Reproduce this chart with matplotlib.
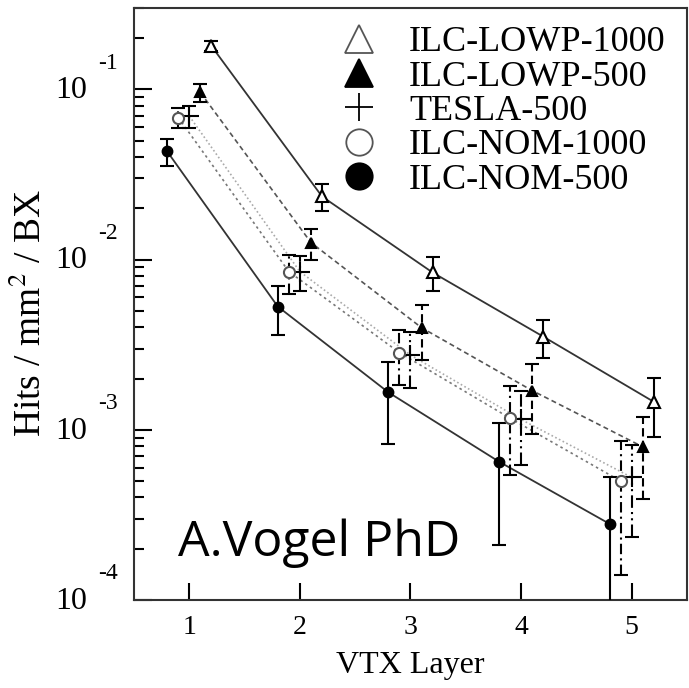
import matplotlib
matplotlib.use("Agg")
import matplotlib.pyplot as plt
from matplotlib.lines import Line2D
import numpy as np

plt.rcParams["mathtext.fontset"] = "stix"

layers = [1, 2, 3, 4, 5]
series_names = ["ILC-LOWP-1000", "ILC-LOWP-500", "TESLA-500", "ILC-NOM-1000", "ILC-NOM-500"]
x_shift = [0.2, 0.1, 0.0, -0.1, -0.2]

lowp1000 = [0.18, 0.0235, 0.0084, 0.00353, 0.00146]
lowp1000_err = [0.012, 0.0042, 0.0019, 0.0009, 0.00055]
lowp500 = [0.096, 0.0126, 0.00398, 0.0017, 0.000794]
lowp500_err = [0.0115, 0.0026, 0.0014, 0.00075, 0.0004]
tesla500 = [0.0697, 0.0085, 0.00275, 0.00115, 0.000525]
tesla500_err = [0.01, 0.002, 0.001, 0.00053, 0.00029]
nom1000 = [0.0684, 0.0085, 0.00284, 0.00117, 0.0005]
nom1000_err = [0.009, 0.0022, 0.001, 0.00063, 0.00036]
nom500 = [0.0432, 0.0053, 0.00166, 0.00065, 0.00028]
nom500_err = [0.0078, 0.0017, 0.00083, 0.00044, 0.000245]

values = [lowp1000, lowp500, tesla500, nom1000, nom500]
errors = [lowp1000_err, lowp500_err, tesla500_err, nom1000_err, nom500_err]

styles = [
    dict(marker="^", mfc="white", mec="black", ms=9, lms=19.5, ls="-", lc="#333333", lw=1.3, els="-"),
    dict(marker="^", mfc="black", mec="black", ms=7, lms=19.5, ls=(0, (3, 2)), lc="#555555", lw=1.2, els=(0, (4, 2))),
    dict(marker="+", mfc="black", mec="black", ms=14, lms=20, ls=(0, (1, 1.5)), lc="#aaaaaa", lw=1.2, els=(0, (6, 2, 1, 2, 1, 2))),
    dict(marker="o", mfc="white", mec="#555555", ms=8, lms=19, ls=(0, (1.5, 2)), lc="#777777", lw=1.2, els=(0, (5, 2, 1, 2))),
    dict(marker="o", mfc="black", mec="black", ms=7, lms=19, ls="-", lc="#333333", lw=1.3, els="-"),
]

serif = ["Liberation Serif", "DejaVu Serif"]

fig = plt.figure(figsize=(6.89, 6.88), dpi=100)
ax = fig.add_axes([0.1945, 0.128, 0.8025, 0.860])

for vals, errs, st, dx in zip(values, errors, styles, x_shift):
    xs = np.array(layers, dtype=float) + dx
    ax.plot(xs, vals, ls=st["ls"], color=st["lc"], lw=st["lw"], zorder=2)
    cont = ax.errorbar(xs, vals, yerr=errs, fmt="none", ecolor="black", elinewidth=1.5,
                       capsize=5, capthick=1.5, zorder=3)
    for bc in cont[2]:
        bc.set_linestyle(st["els"])
    ax.plot(xs, vals, ls="none", marker=st["marker"], mfc=st["mfc"], mec=st["mec"],
            ms=st["ms"], mew=1.5, zorder=4)

ax.set_yscale("log")
ax.set_ylim(1e-4, 0.3)
ax.set_xlim(0.5, 5.5)

for s in ax.spines.values():
    s.set_linewidth(1.5)
    s.set_color("#333333")

ax.set_xticks(layers)
ax.set_xticklabels([str(v) for v in layers], fontsize=20, family=serif)
ax.tick_params(axis="x", which="both", direction="in", length=12, width=1.5, top=False, pad=11)
ax.xaxis.set_minor_locator(matplotlib.ticker.NullLocator())

ax.yaxis.set_major_locator(matplotlib.ticker.LogLocator(base=10, numticks=10))
ax.yaxis.set_minor_locator(matplotlib.ticker.LogLocator(base=10, subs=np.arange(2, 10), numticks=10))
ax.yaxis.set_major_formatter(matplotlib.ticker.NullFormatter())
ax.yaxis.set_minor_formatter(matplotlib.ticker.NullFormatter())
ax.tick_params(axis="y", which="major", direction="in", length=13, width=1.5, right=False)
ax.tick_params(axis="y", which="minor", direction="in", length=7, width=1.5, right=False)

ytick_exps = [-1, -2, -3, -4]
for e in ytick_exps:
    ax.annotate("10", xy=(0, 10.0 ** e), xycoords=("axes fraction", "data"),
                xytext=(-34, -1), textcoords="offset points", ha="right", va="center",
                fontsize=23, family=serif)
    ax.annotate(str(e), xy=(0, 10.0 ** e), xycoords=("axes fraction", "data"),
                xytext=(-26, 19), textcoords="offset points", ha="left", va="center",
                fontsize=17, family=serif)

ax.set_xlabel("VTX Layer", fontsize=23, family=serif, labelpad=8)
fig.text(0.044, 0.545, "Hits / mm$^{2}$ / BX", rotation=90, fontsize=27, family=serif,
         ha="center", va="center")

handles = []
for st in styles:
    handles.append(Line2D([], [], ls="none", marker=st["marker"], mfc=st["mfc"],
                          mec="black" if st["mfc"] == "black" else "#555555",
                          ms=st["lms"], mew=1.3))
leg = ax.legend(handles, series_names, loc="upper left", bbox_to_anchor=(0.322, 1.0127),
                frameon=False, prop={"family": serif, "size": 26}, handletextpad=0.79,
                labelspacing=0.03, borderaxespad=0.3, handlelength=1.2)

ax.text(0.08, 0.075, "A.Vogel PhD", transform=ax.transAxes, fontsize=36,
        family=["Open Sans", "DejaVu Sans"], ha="left", va="baseline")

fig.savefig("out.png", dpi=100)
